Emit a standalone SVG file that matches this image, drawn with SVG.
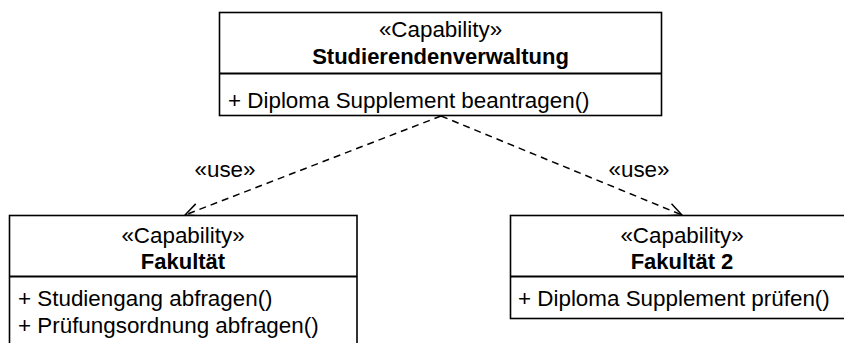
<svg xmlns="http://www.w3.org/2000/svg" width="844" height="343" viewBox="0 0 844 343">
<defs>
<style>
.box{fill:#fff;stroke:#000;stroke-width:1.6}
.sep{stroke:#000;stroke-width:1.8}
text{font-family:"Liberation Sans",Arial,sans-serif;font-size:22.4px;fill:#000}
.c{text-anchor:middle}
.b{font-weight:bold;font-size:22px}
.dep{fill:none;stroke:#000;stroke-width:1.5;stroke-dasharray:7,5}
</style>
<marker id="open" viewBox="0 0 16 16" refX="15" refY="8" markerWidth="16" markerHeight="16" markerUnits="userSpaceOnUse" orient="auto">
<path d="M1,1.5 L15,8 L1,14.5" fill="none" stroke="#000" stroke-width="1.5"/>
</marker>
</defs>
<rect width="844" height="343" fill="#fff"/>
<g id="connectors">
<path class="dep" d="M441,116 L185,215" marker-end="url(#open)"/>
<path class="dep" d="M441,116 L682,215" marker-end="url(#open)"/>
<text class="c" x="225" y="177">«use»</text>
<text class="c" x="639" y="177">«use»</text>
</g>
<g id="studierendenverwaltung">
<rect class="box" x="219.5" y="12.5" width="442" height="103"/>
<line class="sep" x1="219.5" y1="73.5" x2="661.5" y2="73.5"/>
<text class="c" x="440.5" y="37">«Capability»</text>
<text class="c b" x="440.5" y="64">Studierendenverwaltung</text>
<text x="228" y="108">+ Diploma Supplement beantragen()</text>
</g>
<g id="fakultaet">
<rect class="box" x="9.5" y="215.5" width="347.5" height="140"/>
<line class="sep" x1="9.5" y1="276.5" x2="357" y2="276.5"/>
<text class="c" x="183" y="243">«Capability»</text>
<text class="c b" x="183" y="269">Fakultät</text>
<text x="18" y="306">+ Studiengang abfragen()</text>
<text x="18" y="333">+ Prüfungsordnung abfragen()</text>
</g>
<g id="fakultaet2">
<rect class="box" x="510.5" y="215.5" width="336" height="103"/>
<line class="sep" x1="510.5" y1="276.5" x2="846.5" y2="276.5"/>
<text class="c" x="682" y="243">«Capability»</text>
<text class="c b" x="682" y="269">Fakultät 2</text>
<text x="518" y="306">+ Diploma Supplement prüfen()</text>
</g>
</svg>
